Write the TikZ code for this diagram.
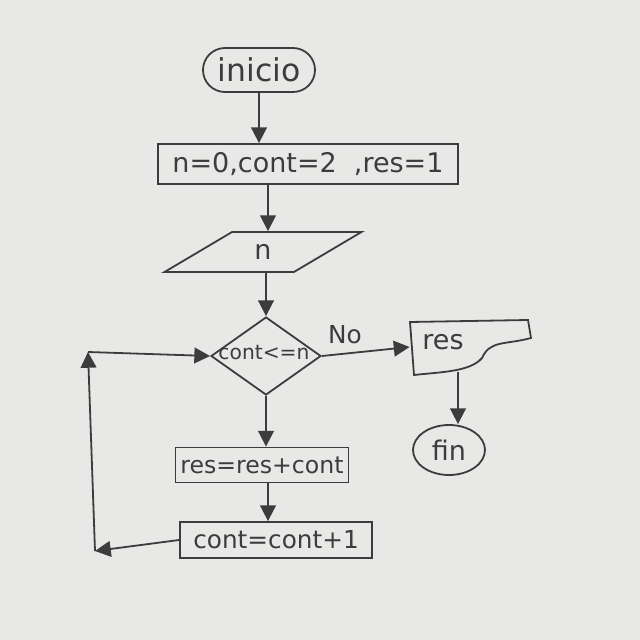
\documentclass[tikz,border=0pt]{standalone}
\usepackage{fontspec}
\setmainfont{DejaVu Sans}
\usetikzlibrary{arrows.meta,shapes.geometric,shapes.misc}
\definecolor{paper}{RGB}{232,232,230}
\definecolor{pencil}{RGB}{60,60,62}
\newdimen\pxu \pxu=0.015625cm
\begin{document}
\begin{tikzpicture}[x=0.015625cm,y=-0.015625cm,
  every node/.style={text=pencil, font=\fontsize{11}{13}\selectfont},
  ln/.style={draw=pencil, line width=0.8pt},
  arr/.style={ln, -{Triangle[length=7pt,width=7pt]}},
  proc/.style={ln, rectangle, inner sep=0pt},
  term/.style={ln, rounded rectangle, inner sep=0pt},
  dec/.style={ln, diamond, inner sep=0pt},
  io/.style={ln, trapezium, trapezium left angle=39, trapezium right angle=141, trapezium stretches=true, inner sep=0pt}
]
\fill[paper] (0,0) rectangle (640,640);
\useasboundingbox (0,0) rectangle (640,640);

\node[term, minimum width=112\pxu, minimum height=44\pxu, font=\fontsize{14}{16}\selectfont] (ini) at (259,70) {inicio};
\node[proc, minimum width=300\pxu, minimum height=40\pxu, font=\fontsize{12}{14}\selectfont] (init) at (308,164) {n=0,cont=2\ \ ,res=1};
\node[io, minimum width=197\pxu, minimum height=40\pxu, font=\fontsize{12}{14}\selectfont] (inp) at (263,252) {n};
\node[dec, minimum width=110\pxu, minimum height=78\pxu] (dc) at (266,356) {};
\node[font=\fontsize{9}{11}\selectfont] (dct) at (264,353) {cont<=n};
\node[proc, minimum width=173\pxu, minimum height=35\pxu, font=\fontsize{10.5}{12}\selectfont] (sum) at (262,465) {res=res+cont};
\node[proc, minimum width=192\pxu, minimum height=36\pxu] (inc) at (276,540) {cont=cont+1};
\node[minimum width=120\pxu, minimum height=50\pxu, inner sep=0pt] (out) at (470,347) {};
\node[font=\fontsize{12}{14}\selectfont] at (443,342) (outt) {res};
\draw[ln] (410,322) -- (528,320) -- (531,338)
  .. controls (505,345) and (490,340) .. (482,358)
  .. controls (470,372) and (440,372) .. (414,375) -- cycle;
\node[ln, ellipse, minimum width=72\pxu, minimum height=50\pxu, inner sep=0pt, font=\fontsize{12}{14}\selectfont] (fin) at (449,450) {fin};
\node at (345,335) (no) {No};

\coordinate (c1) at (95,551);
\coordinate (c2) at (88,352);

\draw[arr] (ini.south) -- (init.north -| ini.south);
\draw[arr] (init.south -| 268,0) -- (inp.north -| 268,0);
\draw[arr] (inp.south -| dc.north) -- (dc.north);
\draw[arr] (dc.south) -- (sum.north -| dc.south);
\draw[arr] (sum.south -| 268,0) -- (inc.north -| 268,0);
\draw[arr] (inc.west) -- (c1);
\draw[arr] (c1) -- (c2);
\draw[arr] (c2) -- (dc.west);
\draw[arr] (dc.east) -- (out.west);
\draw[arr] (out.south -| 458,0) -- (fin.north -| 458,0);
\end{tikzpicture}
\end{document}
